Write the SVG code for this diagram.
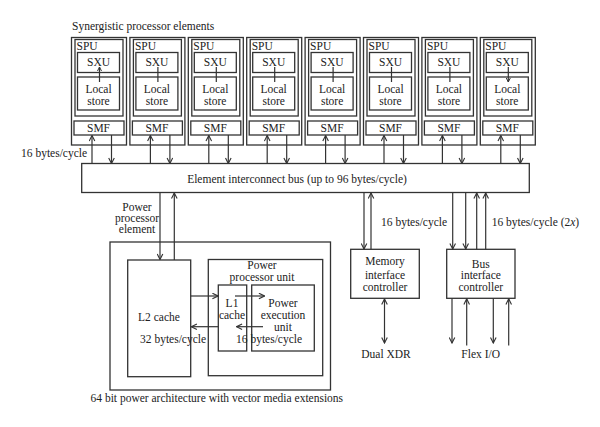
<svg xmlns="http://www.w3.org/2000/svg" width="600" height="427" viewBox="0 0 600 427">
<style>
.box{fill:#fff;stroke:#333;stroke-width:1.3}
.ln{fill:none;stroke:#333;stroke-width:1.2}
.a{marker-end:url(#ah)}
.d{marker-start:url(#ah);marker-end:url(#ah)}
.ds{marker-start:url(#ahs);marker-end:url(#ahs)}
text{font-family:"Liberation Serif","Times New Roman",serif;font-size:11.5px;fill:#222}
.m{text-anchor:middle}
</style>
<defs>
<marker id="ah" viewBox="0 0 10 10" refX="9" refY="5" markerWidth="7" markerHeight="7" orient="auto-start-reverse" markerUnits="userSpaceOnUse">
<path d="M1,1 L9,5 L1,9" fill="none" stroke="#333" stroke-width="1.6"/>
</marker>
<marker id="ahs" viewBox="0 0 10 10" refX="9" refY="5" markerWidth="5" markerHeight="6" orient="auto-start-reverse" markerUnits="userSpaceOnUse">
<path d="M1,1 L9,5 L1,9" fill="none" stroke="#333" stroke-width="2"/>
</marker>
</defs>
<rect width="600" height="427" fill="#fff"/>
<text x="72" y="30">Synergistic processor elements</text>

<g id="spe1">
<rect class="box" x="71.5" y="37.5" width="55" height="107.5"/>
<rect class="box" x="75" y="39.5" width="48" height="76.5"/>
<text x="76.5" y="49.5">SPU</text>
<rect class="box" x="77.5" y="52.5" width="42" height="20"/>
<text class="m" x="98.5" y="66">SXU</text>
<rect class="box" x="77.5" y="77" width="42" height="33"/>
<text class="m" x="98.5" y="93">Local</text>
<text class="m" x="98.5" y="104.5">store</text>
<rect class="box" x="74" y="121" width="50" height="14"/>
<text class="m" x="98.5" y="132">SMF</text>
</g>
<g id="spe2">
<rect class="box" x="129.9" y="37.5" width="55" height="107.5"/>
<rect class="box" x="133.4" y="39.5" width="48" height="76.5"/>
<text x="134.9" y="49.5">SPU</text>
<rect class="box" x="135.9" y="52.5" width="42" height="20"/>
<text class="m" x="156.9" y="66">SXU</text>
<rect class="box" x="135.9" y="77" width="42" height="33"/>
<text class="m" x="156.9" y="93">Local</text>
<text class="m" x="156.9" y="104.5">store</text>
<rect class="box" x="132.4" y="121" width="50" height="14"/>
<text class="m" x="156.9" y="132">SMF</text>
</g>
<g id="spe3">
<rect class="box" x="188.3" y="37.5" width="55" height="107.5"/>
<rect class="box" x="191.8" y="39.5" width="48" height="76.5"/>
<text x="193.3" y="49.5">SPU</text>
<rect class="box" x="194.3" y="52.5" width="42" height="20"/>
<text class="m" x="215.3" y="66">SXU</text>
<rect class="box" x="194.3" y="77" width="42" height="33"/>
<text class="m" x="215.3" y="93">Local</text>
<text class="m" x="215.3" y="104.5">store</text>
<rect class="box" x="190.8" y="121" width="50" height="14"/>
<text class="m" x="215.3" y="132">SMF</text>
</g>
<g id="spe4">
<rect class="box" x="246.7" y="37.5" width="55" height="107.5"/>
<rect class="box" x="250.2" y="39.5" width="48" height="76.5"/>
<text x="251.7" y="49.5">SPU</text>
<rect class="box" x="252.7" y="52.5" width="42" height="20"/>
<text class="m" x="273.7" y="66">SXU</text>
<rect class="box" x="252.7" y="77" width="42" height="33"/>
<text class="m" x="273.7" y="93">Local</text>
<text class="m" x="273.7" y="104.5">store</text>
<rect class="box" x="249.2" y="121" width="50" height="14"/>
<text class="m" x="273.7" y="132">SMF</text>
</g>
<g id="spe5">
<rect class="box" x="305.1" y="37.5" width="55" height="107.5"/>
<rect class="box" x="308.6" y="39.5" width="48" height="76.5"/>
<text x="310.1" y="49.5">SPU</text>
<rect class="box" x="311.1" y="52.5" width="42" height="20"/>
<text class="m" x="332.1" y="66">SXU</text>
<rect class="box" x="311.1" y="77" width="42" height="33"/>
<text class="m" x="332.1" y="93">Local</text>
<text class="m" x="332.1" y="104.5">store</text>
<rect class="box" x="307.6" y="121" width="50" height="14"/>
<text class="m" x="332.1" y="132">SMF</text>
</g>
<g id="spe6">
<rect class="box" x="363.5" y="37.5" width="55" height="107.5"/>
<rect class="box" x="367" y="39.5" width="48" height="76.5"/>
<text x="368.5" y="49.5">SPU</text>
<rect class="box" x="369.5" y="52.5" width="42" height="20"/>
<text class="m" x="390.5" y="66">SXU</text>
<rect class="box" x="369.5" y="77" width="42" height="33"/>
<text class="m" x="390.5" y="93">Local</text>
<text class="m" x="390.5" y="104.5">store</text>
<rect class="box" x="366" y="121" width="50" height="14"/>
<text class="m" x="390.5" y="132">SMF</text>
</g>
<g id="spe7">
<rect class="box" x="421.9" y="37.5" width="55" height="107.5"/>
<rect class="box" x="425.4" y="39.5" width="48" height="76.5"/>
<text x="426.9" y="49.5">SPU</text>
<rect class="box" x="427.9" y="52.5" width="42" height="20"/>
<text class="m" x="448.9" y="66">SXU</text>
<rect class="box" x="427.9" y="77" width="42" height="33"/>
<text class="m" x="448.9" y="93">Local</text>
<text class="m" x="448.9" y="104.5">store</text>
<rect class="box" x="424.4" y="121" width="50" height="14"/>
<text class="m" x="448.9" y="132">SMF</text>
</g>
<g id="spe8">
<rect class="box" x="480.3" y="37.5" width="55" height="107.5"/>
<rect class="box" x="483.8" y="39.5" width="48" height="76.5"/>
<text x="485.3" y="49.5">SPU</text>
<rect class="box" x="486.3" y="52.5" width="42" height="20"/>
<text class="m" x="507.3" y="66">SXU</text>
<rect class="box" x="486.3" y="77" width="42" height="33"/>
<text class="m" x="507.3" y="93">Local</text>
<text class="m" x="507.3" y="104.5">store</text>
<rect class="box" x="482.8" y="121" width="50" height="14"/>
<text class="m" x="507.3" y="132">SMF</text>
</g>

<g id="bus">
<rect class="box" x="81.7" y="163.5" width="447.6" height="29"/>
<text class="m" x="297" y="182.5">Element interconnect bus (up to 96 bytes/cycle)</text>
</g>

<g id="ppe">
<rect class="box" x="110" y="242" width="220.5" height="148"/>
<text x="90.5" y="401.5">64 bit power architecture with vector media extensions</text>
</g>
<g id="l2">
<rect class="box" x="127.7" y="260" width="63" height="116.7"/>
<text class="m" x="159" y="320.5">L2 cache</text>
</g>
<g id="ppu">
<rect class="box" x="208.3" y="259.5" width="114.4" height="116.2"/>
<text class="m" x="262" y="269">Power</text>
<text class="m" x="262" y="281">processor unit</text>
</g>
<g id="l1">
<rect class="box" x="218.3" y="285" width="28.4" height="66"/>
<text class="m" x="232" y="307.3">L1</text>
<text class="m" x="232" y="319.3">cache</text>
</g>
<g id="peu">
<rect class="box" x="251.7" y="285" width="62.6" height="66"/>
<text class="m" x="283" y="307.3">Power</text>
<text class="m" x="283" y="319">execution</text>
<text class="m" x="283" y="330.5">unit</text>
</g>

<g id="mic">
<rect class="box" x="350.7" y="249.3" width="68.6" height="49"/>
<text class="m" x="385" y="264.5">Memory</text>
<text class="m" x="385" y="278.5">interface</text>
<text class="m" x="385" y="290.5">controller</text>
</g>
<g id="bic">
<rect class="box" x="446.7" y="249.3" width="68.3" height="49"/>
<text class="m" x="480.8" y="267.5">Bus</text>
<text class="m" x="480.8" y="279">interface</text>
<text class="m" x="480.8" y="290.5">controller</text>
</g>

<g id="connectors">
<path class="ln ds" d="M99.5,67V82 M157.9,67V82 M216.3,67V82 M274.7,67V82 M333.1,67V82 M391.5,67V82 M449.9,67V82 M508.3,67V82"/>
<path class="ln a" d="M92,163.5V135.5"/>
<path class="ln a" d="M111.5,135V163.5"/>
<path class="ln a" d="M150.4,163.5V135.5"/>
<path class="ln a" d="M169.9,135V163.5"/>
<path class="ln a" d="M208.8,163.5V135.5"/>
<path class="ln a" d="M228.3,135V163.5"/>
<path class="ln a" d="M267.2,163.5V135.5"/>
<path class="ln a" d="M286.7,135V163.5"/>
<path class="ln a" d="M325.6,163.5V135.5"/>
<path class="ln a" d="M345.1,135V163.5"/>
<path class="ln a" d="M384,163.5V135.5"/>
<path class="ln a" d="M403.5,135V163.5"/>
<path class="ln a" d="M442.4,163.5V135.5"/>
<path class="ln a" d="M461.9,135V163.5"/>
<path class="ln a" d="M500.8,163.5V135.5"/>
<path class="ln a" d="M520.3,135V163.5"/>
<text x="21" y="157">16 bytes/cycle</text>

<path class="ln a" d="M160,192.5V259.5"/>
<path class="ln a" d="M174.3,260V193"/>
<text class="m" x="137" y="210.5">Power</text>
<text class="m" x="137" y="221.5">processor</text>
<text class="m" x="137" y="232.5">element</text>

<path class="ln a" d="M190.7,296H218"/>
<path class="ln a" d="M218.3,326.7H191.3"/>
<path class="ln a" d="M235,296H264.5"/>
<path class="ln a" d="M263,326.7H236.5"/>
<text x="140" y="343.3">32 bytes/cycle</text>
<text x="236" y="343.3">16 bytes/cycle</text>

<path class="ln a" d="M364,192.5V249"/>
<path class="ln a" d="M371,249.3V193"/>
<text x="381" y="226">16 bytes/cycle</text>

<path class="ln a" d="M452.7,192.5V249"/>
<path class="ln a" d="M465.7,192.5V249"/>
<path class="ln a" d="M476.7,249.3V193"/>
<path class="ln a" d="M485.7,249.3V193"/>
<text x="491.7" y="226">16 bytes/cycle (2<tspan font-style="italic">x</tspan>)</text>

<path class="ln d" d="M384.5,299V343"/>
<text class="m" x="386" y="357.5">Dual XDR</text>
<path class="ln a" d="M452,298.3V343"/>
<path class="ln a" d="M466.7,345.5V298.8"/>
<path class="ln a" d="M493.3,298.3V343"/>
<path class="ln a" d="M508.7,345.5V298.8"/>
<text class="m" x="480.7" y="357.5">Flex I/O</text>
</g>
</svg>
